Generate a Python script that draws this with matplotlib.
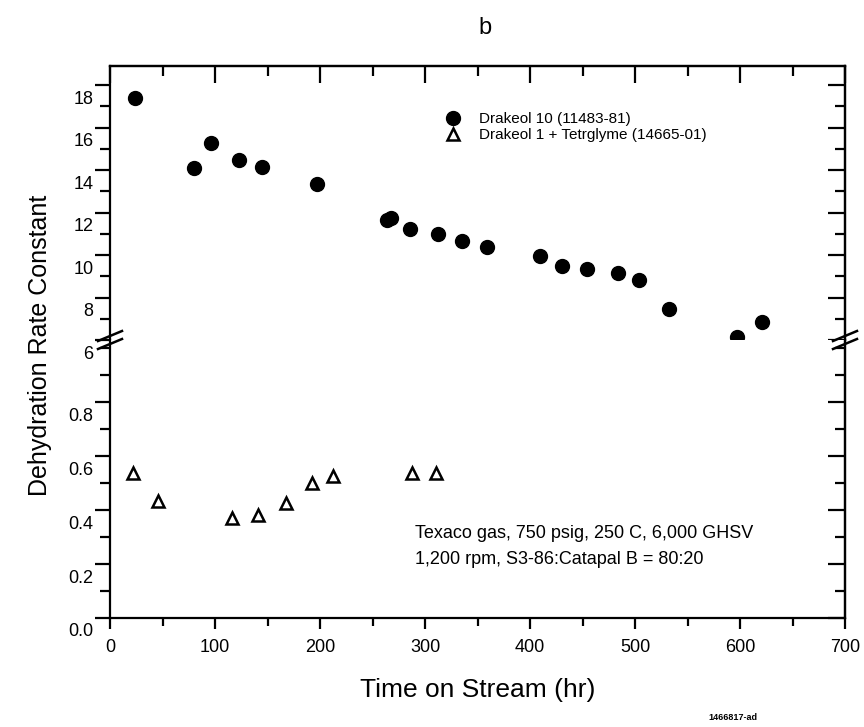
import matplotlib
matplotlib.use("Agg")
import matplotlib.pyplot as plt
from matplotlib.lines import Line2D
from matplotlib.ticker import MultipleLocator
from matplotlib.transforms import ScaledTranslation

plt.rcParams["font.family"] = ["Liberation Sans", "DejaVu Sans"]

# Drakeol 10 (11483-81)
hours_d10 = [24, 80, 96, 123, 144.5, 197.5, 264, 268, 286, 312.5, 335.5, 359,
             409.5, 430, 454, 484, 504, 532, 597, 620.5]
rate_d10 = [17.40, 14.11, 15.28, 14.47, 14.16, 13.33, 11.65, 11.73, 11.22, 10.97,
            10.67, 10.39, 9.95, 9.48, 9.34, 9.14, 8.82, 7.44, 6.15, 6.86]

# Drakeol 1 + Tetrglyme (14665-01)
hours_tg = [21.5, 46, 116.5, 140.5, 167.5, 192, 212.5, 288, 310]
rate_tg = [0.536, 0.433, 0.371, 0.381, 0.425, 0.499, 0.527, 0.536, 0.536]

upper_ticks = [6, 8, 10, 12, 14, 16, 18]
lower_ticks = [0.0, 0.2, 0.4, 0.6, 0.8]
x_ticks = [0, 100, 200, 300, 400, 500, 600, 700]

W, H = 864, 727
fig = plt.figure(figsize=(W / 100, H / 100), dpi=100)

left, right = 110 / W, 845 / W
y_top, y_brk, y_bot = 1 - 66 / H, 1 - 340 / H, 1 - 618 / H
ax_up = fig.add_axes([left, y_brk, right - left, y_top - y_brk])
ax_lo = fig.add_axes([left, y_bot, right - left, y_brk - y_bot])

lw = 1.6
for ax in (ax_up, ax_lo):
    ax.set_xlim(0, 700)
    for s in ax.spines.values():
        s.set_linewidth(lw)
    ax.xaxis.set_minor_locator(MultipleLocator(50))
    ax.tick_params(axis="y", which="major", direction="out", length=11, width=lw,
                   labelsize=13, pad=1, right=False)
    ax.tick_params(axis="y", which="minor", direction="out", length=7, width=lw, right=False)

ax_up.set_ylim(6, 18.9)
ax_up.set_yticks(upper_ticks)
ax_up.yaxis.set_minor_locator(MultipleLocator(1))
ax_up.spines["bottom"].set_visible(False)
ax_up.tick_params(axis="x", which="both", bottom=False, labelbottom=False, top=False)

ax_lo.set_ylim(0, 1.03)
ax_lo.set_yticks(lower_ticks)
ax_lo.set_yticklabels(["0.0", "0.2", "0.4", "0.6", "0.8"])
ax_lo.yaxis.set_minor_locator(MultipleLocator(0.1))
ax_lo.spines["top"].set_visible(False)
ax_lo.set_xticks(x_ticks)
ax_lo.tick_params(axis="x", which="major", direction="out", length=8, width=lw,
                  labelsize=13, pad=7, top=False)
ax_lo.tick_params(axis="x", which="minor", direction="out", length=6, width=lw, top=False)

# inward ticks on right side and top, like the original
for ax, step in ((ax_up, 1), (ax_lo, 0.1)):
    sec = ax.secondary_yaxis("right")
    sec.set_yticks(ax.get_yticks())
    sec.yaxis.set_minor_locator(MultipleLocator(step))
    sec.tick_params(which="major", direction="in", length=12, width=lw, labelright=False)
    sec.tick_params(which="minor", direction="in", length=7, width=lw)
    sec.spines["right"].set_linewidth(lw)
sec_top = ax_up.secondary_xaxis("top")
sec_top.set_xticks(x_ticks)
sec_top.xaxis.set_minor_locator(MultipleLocator(50))
sec_top.tick_params(which="major", direction="in", length=12, width=lw, labeltop=False)
sec_top.tick_params(which="minor", direction="in", length=7, width=lw)
sec_top.spines["top"].set_linewidth(lw)

# y tick labels sit a little low in the scan
off = ScaledTranslation(0, -12 / 100, fig.dpi_scale_trans)
for ax in (ax_up, ax_lo):
    for lab in ax.get_yticklabels():
        lab.set_transform(lab.get_transform() + off)

ax_up.plot(hours_d10, rate_d10, "o", color="black", ms=10, label="Drakeol 10 (11483-81)")
tri, = ax_lo.plot(hours_tg, rate_tg, "^", color="black", mfc="white", mew=1.8, ms=9,
                  label="Drakeol 1 + Tetrglyme (14665-01)")
circ = ax_up.lines[0]

ax_up.legend(handles=[circ, tri], loc="upper left", bbox_to_anchor=(445 / W, 1 - 112 / H),
             bbox_transform=fig.transFigure, frameon=False, fontsize=11, handlelength=1.0,
             handletextpad=1.2, labelspacing=0.15, borderpad=0, borderaxespad=0)

# break marks on both vertical spines
for xp in (110, 845):
    for dy in (-4, 4):
        fig.add_artist(Line2D([(xp - 12) / W, (xp + 12) / W],
                              [1 - (340 + dy + 5) / H, 1 - (340 + dy - 5) / H],
                              transform=fig.transFigure, color="black", lw=1.8))

ax_lo.text(415 / W, 1 - 533 / H, "Texaco gas, 750 psig, 250 C, 6,000 GHSV",
           transform=fig.transFigure, fontsize=13, va="center")
ax_lo.text(415 / W, 1 - 560 / H, "1,200 rpm, S3-86:Catapal B = 80:20",
           transform=fig.transFigure, fontsize=13, va="center")

ax_lo.set_xlabel("Time on Stream (hr)", fontsize=19)
ax_lo.xaxis.set_label_coords(0.5, -0.215)
fig.text(40 / W, 1 - 345 / H, "Dehydration Rate Constant", rotation=90,
         fontsize=18, ha="center", va="center")
fig.text(485 / W, 1 - 28 / H, "b", fontsize=17, ha="center", va="center")
fig.text(733 / W, 1 - 718 / H, "1466817-ad", fontsize=6.5, fontweight="bold",
         ha="center", va="center")

fig.savefig("out.png", dpi=100)
